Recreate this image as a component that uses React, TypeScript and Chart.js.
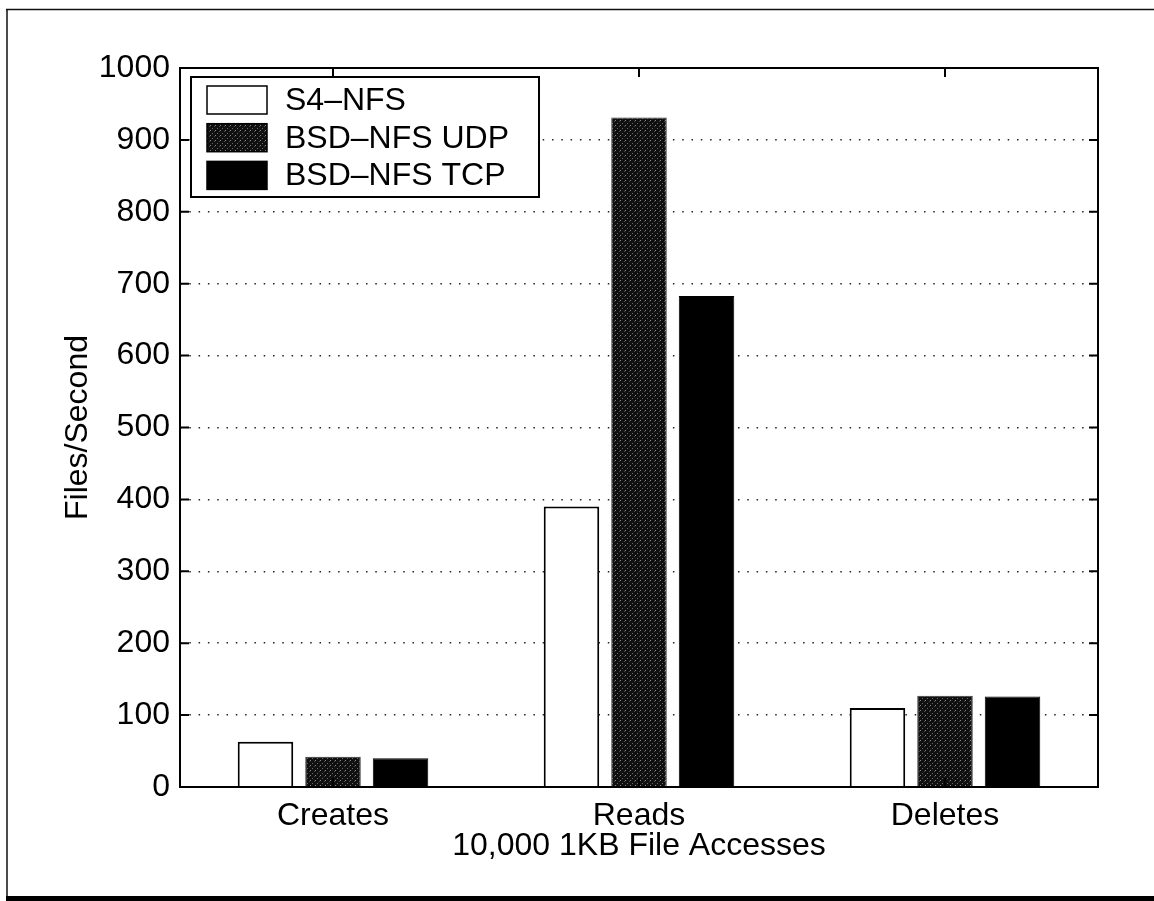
import React, { useEffect, useRef } from 'react';
import { Chart, registerables } from 'chart.js';

Chart.register(...registerables);

const categories = ['Creates', 'Reads', 'Deletes'];
const seriesLabels = ['S4\u2013NFS', 'BSD\u2013NFS UDP', 'BSD\u2013NFS TCP'];
const s4Values = [63, 390, 110];
const udpValues = [42, 931, 127];
const tcpValues = [40, 683, 126];
const yMin = 0;
const yMax = 1000;
const yStep = 100;
const xTitle = '10,000 1KB File Accesses';
const yTitle = 'Files/Second';

const FONT = "'Liberation Sans', Arial, Helvetica, sans-serif";

function makeStipple(): CanvasPattern | string {
  const c = document.createElement('canvas');
  c.width = 5;
  c.height = 5;
  const g = c.getContext('2d');
  if (!g) return '#1c1c1c';
  g.fillStyle = '#101010';
  g.fillRect(0, 0, 5, 5);
  g.fillStyle = '#8a8a8a';
  g.fillRect(0, 0, 1, 1);
  g.fillStyle = '#6a6a6a';
  g.fillRect(2, 3, 1, 1);
  g.fillStyle = '#4a4a4a';
  g.fillRect(4, 1, 1, 1);
  const p = g.createPattern(c, 'repeat');
  return p || '#1c1c1c';
}

const framePlugin = {
  id: 'framePlugin',
  beforeDraw(chart: any) {
    const ctx = chart.ctx;
    ctx.save();
    ctx.fillStyle = '#ffffff';
    ctx.fillRect(0, 0, chart.width, chart.height);
    ctx.strokeStyle = '#111';
    ctx.lineWidth = 1.5;
    ctx.beginPath();
    ctx.moveTo(6, 9.5);
    ctx.lineTo(chart.width, 9.5);
    ctx.moveTo(7, 9);
    ctx.lineTo(7, chart.height);
    ctx.stroke();
    ctx.fillStyle = '#000';
    ctx.fillRect(6, chart.height - 5, chart.width - 6, 5);
    ctx.restore();
  },
  afterDatasetsDraw(chart: any) {
    const ctx = chart.ctx;
    const { left, right, top, bottom } = chart.chartArea;
    const xs = chart.scales.x;
    const ys = chart.scales.y;
    const tl = 9;
    ctx.save();
    ctx.strokeStyle = '#000';
    ctx.lineWidth = 2;
    ctx.beginPath();
    ys.ticks.forEach((t: any, i: number) => {
      const y = ys.getPixelForTick(i);
      ctx.moveTo(left, y);
      ctx.lineTo(left + tl, y);
      ctx.moveTo(right, y);
      ctx.lineTo(right - tl, y);
    });
    xs.ticks.forEach((t: any, i: number) => {
      const x = xs.getPixelForTick(i);
      ctx.moveTo(x, top);
      ctx.lineTo(x, top + tl);
      ctx.moveTo(x, bottom);
      ctx.lineTo(x, bottom - tl);
    });
    ctx.stroke();
    ctx.lineWidth = 2;
    ctx.strokeRect(left, top, right - left, bottom - top);
    ctx.restore();

    // legend
    const lx = left + 11;
    const ly = top + 9;
    const lw = 348;
    const lh = 120;
    ctx.save();
    ctx.fillStyle = '#fff';
    ctx.fillRect(lx, ly, lw, lh);
    ctx.strokeStyle = '#000';
    ctx.lineWidth = 2;
    ctx.strokeRect(lx, ly, lw, lh);
    ctx.font = `32px ${FONT}`;
    ctx.textBaseline = 'middle';
    ctx.textAlign = 'left';
    const rowH = 37.7;
    chart.data.datasets.forEach((ds: any, i: number) => {
      const cy = ly + 23 + i * rowH;
      const sx = lx + 16;
      const sw = 60;
      const sh = 28;
      ctx.fillStyle = ds.backgroundColor;
      ctx.fillRect(sx, cy - sh / 2, sw, sh);
      ctx.strokeStyle = '#000';
      ctx.lineWidth = 1.5;
      ctx.strokeRect(sx, cy - sh / 2, sw, sh);
      ctx.fillStyle = '#000';
      ctx.fillText(ds.label, lx + 94, cy + 1);
    });
    ctx.restore();
  },
};

export default function App() {
  const ref = useRef<HTMLCanvasElement | null>(null);

  useEffect(() => {
    if (!ref.current) return;
    document.body.style.margin = '0';
    const stipple = makeStipple();
    const chart = new Chart(ref.current, {
      type: 'bar',
      data: {
        labels: categories,
        datasets: [
          { label: seriesLabels[0], data: s4Values, backgroundColor: '#ffffff', borderColor: '#000', borderWidth: 2 },
          { label: seriesLabels[1], data: udpValues, backgroundColor: stipple as any, borderColor: '#333', borderWidth: 1 },
          { label: seriesLabels[2], data: tcpValues, backgroundColor: '#000000', borderColor: '#000', borderWidth: 1 },
        ],
      },
      options: {
        responsive: false,
        animation: false,
        devicePixelRatio: 1,
        categoryPercentage: 0.662,
        barPercentage: 0.822,
        layout: { padding: { top: 68, right: 56, left: 0, bottom: 0 } },
        plugins: {
          legend: { display: false },
          tooltip: { enabled: false },
        },
        scales: {
          x: {
            grid: { display: false, drawTicks: false },
            border: { display: false },
            ticks: { color: '#000', font: { family: FONT, size: 32 }, padding: 10 },
            title: {
              display: true,
              text: xTitle,
              color: '#000',
              font: { family: FONT, size: 32 },
              padding: { top: 0, bottom: 36 },
            },
            afterFit: (s: any) => { s.height = 114; },
          },
          y: {
            min: yMin,
            max: yMax,
            grid: {
              drawTicks: false,
              lineWidth: 1.5,
              color: (c: any) =>
                c.tick && (c.tick.value === yMin || c.tick.value === yMax) ? 'rgba(0,0,0,0)' : '#222',
            },
            border: { display: false, dash: [1.5, 7.8] },
            ticks: {
              stepSize: yStep,
              color: '#000',
              font: { family: FONT, size: 32 },
              padding: 10,
              callback: (v: any) => String(v),
            },
            title: {
              display: true,
              text: yTitle,
              color: '#000',
              font: { family: FONT, size: 32 },
              padding: { top: 59, bottom: 0 },
            },
            afterFit: (s: any) => { s.width = 180; },
          },
        },
      },
      plugins: [framePlugin],
    });
    return () => chart.destroy();
  }, []);

  return (
    <div style={{ position: 'fixed', left: 0, top: 0, width: 1154, height: 901 }}>
      <canvas ref={ref} width={1154} height={901} />
    </div>
  );
}
